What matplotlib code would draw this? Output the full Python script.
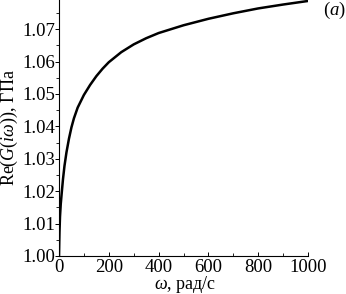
import numpy as np
import matplotlib
matplotlib.use("Agg")
import matplotlib.pyplot as plt
from matplotlib.ticker import MultipleLocator, FormatStrFormatter

plt.rcParams['font.family'] = ['Liberation Serif', 'DejaVu Serif']
plt.rcParams['mathtext.fontset'] = 'custom'
plt.rcParams['mathtext.rm'] = 'Liberation Serif'
plt.rcParams['mathtext.it'] = 'Liberation Serif:italic'
plt.rcParams['font.size'] = 13.5

# values
omega = [0, 1, 2, 4, 7, 11, 16, 22, 30, 40, 50, 60, 75, 100, 125, 150, 175,
         200, 250, 300, 350, 400, 500, 600, 700, 800, 900, 1000]
re_g = [1.0, 1.0040, 1.0075, 1.0121, 1.0160, 1.0195, 1.0237, 1.0278, 1.0320,
        1.0362, 1.0397, 1.0425, 1.0458, 1.0497, 1.0528, 1.0555, 1.0578,
        1.0598, 1.0629, 1.0653, 1.0672, 1.0688, 1.0712, 1.0732, 1.0749,
        1.0764, 1.0776, 1.0787]

fig = plt.figure(figsize=(3.46, 2.94), dpi=100)
ax = fig.add_axes([59 / 346, 38 / 294, 249 / 346, 256 / 294])

ax.plot(omega, re_g, color='black', lw=1.8, solid_joinstyle='round')

ax.set_xlim(0, 1000)
ax.set_ylim(1.0, 1.079)
ax.spines['top'].set_visible(False)
ax.spines['right'].set_visible(False)
ax.spines['left'].set_linewidth(0.8)
ax.spines['bottom'].set_linewidth(0.8)

ax.xaxis.set_major_locator(MultipleLocator(200))
ax.xaxis.set_minor_locator(MultipleLocator(100))
ax.yaxis.set_major_locator(MultipleLocator(0.01))
ax.yaxis.set_minor_locator(MultipleLocator(0.005))
ax.yaxis.set_major_formatter(FormatStrFormatter('%.2f'))

ax.tick_params(axis='x', which='major', direction='in', length=3, width=0.7, pad=2)
ax.tick_params(axis='x', which='minor', direction='in', length=2, width=0.6)
ax.tick_params(axis='y', which='major', direction='out', length=3, width=0.7, pad=0)
ax.tick_params(axis='y', which='minor', direction='out', length=2, width=0.6)

ax.set_xlabel(r'$\omega$, рад/с', fontsize=13)
ax.xaxis.set_label_coords(0.506, -0.07)
ax.set_ylabel(r'Re$(G(i\omega))$, ГПа', fontsize=13)
ax.yaxis.set_label_coords(-0.158, 0.5)

ax.text(1.108, 0.96, r'$(a)$', transform=ax.transAxes, ha='center', va='center')

fig.savefig('out.png', dpi=100)
